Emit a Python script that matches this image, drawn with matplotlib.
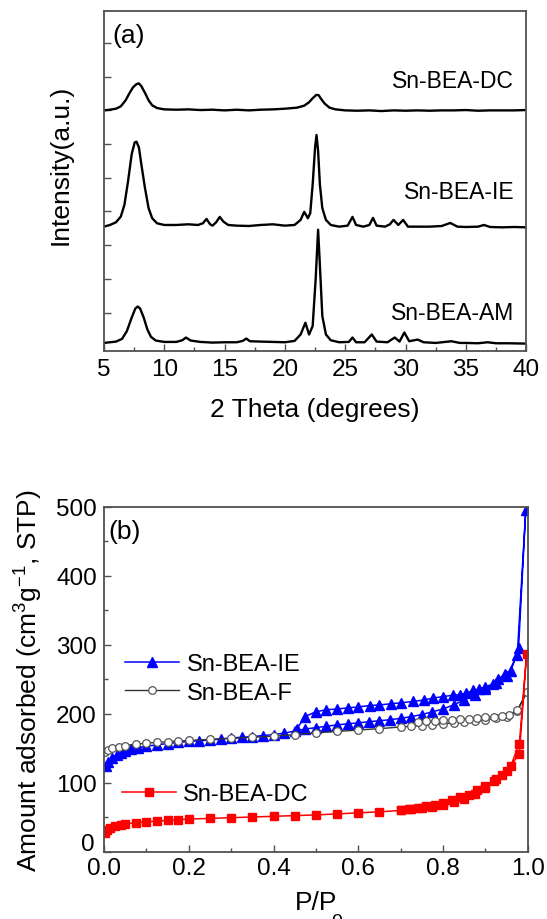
import numpy as np
import matplotlib
matplotlib.use("Agg")
import matplotlib.pyplot as plt
import matplotlib.transforms as mtransforms
from matplotlib.ticker import MultipleLocator, NullFormatter, FormatStrFormatter, FuncFormatter

plt.rcParams['font.family'] = ['Liberation Sans', 'DejaVu Sans']
plt.rcParams['mathtext.fontset'] = 'custom'
plt.rcParams['mathtext.rm'] = 'Liberation Sans'
plt.rcParams['mathtext.it'] = 'Liberation Sans'

# ---- (a) XRD patterns (2theta, stacked intensity) ----
dc_2theta = [5.0, 5.5, 6.0, 6.4, 6.8, 7.1, 7.4, 7.7, 7.9, 8.1, 8.4, 8.7, 9.0, 9.4, 10, 11, 12, 13, 14, 15,
             16, 17, 18, 19, 20, 21, 21.6, 22.0, 22.3, 22.6, 22.8, 23.0, 23.3, 23.7, 24.2, 25, 26, 27, 28,
             29, 30, 31, 32, 33, 34, 35, 36, 37, 38, 39, 40]
dc_int = [7.00, 7.02, 7.05, 7.12, 7.30, 7.50, 7.68, 7.78, 7.80, 7.72, 7.52, 7.30, 7.15, 7.07, 7.03, 7.02, 7.03,
          7.01, 7.02, 7.00, 7.02, 7.00, 7.02, 7.03, 7.05, 7.08, 7.14, 7.24, 7.36, 7.46, 7.45, 7.34, 7.20, 7.08,
          7.03, 7.00, 6.99, 7.00, 6.98, 7.00, 6.99, 7.00, 6.99, 7.00, 7.00, 7.01, 6.99, 7.00, 7.00, 7.00, 7.01]

ie_2theta = [5.0, 5.5, 6.0, 6.4, 6.7, 7.0, 7.3, 7.55, 7.7, 7.9, 8.1, 8.4, 8.7, 9.0, 9.4, 10, 11, 12, 12.8, 13.2,
             13.5, 13.8, 14.0, 14.3, 14.6, 14.9, 15.3, 16, 17, 18, 19, 20, 20.8, 21.3, 21.6, 21.9, 22.1, 22.3,
             22.5, 22.62, 22.75, 22.9, 23.1, 23.4, 23.8, 24.5, 25.2, 25.6, 25.9, 26.5, 27.0, 27.3, 27.6, 28.3,
             28.7, 29.0, 29.4, 29.8, 30.2, 31, 32, 33, 33.7, 34.3, 35, 36, 36.5, 37, 38, 39, 40]
ie_int = [3.55, 3.60, 3.68, 3.85, 4.20, 4.90, 5.70, 6.05, 6.07, 5.90, 5.40, 4.70, 4.10, 3.80, 3.65, 3.60, 3.60,
          3.62, 3.60, 3.65, 3.78, 3.62, 3.58, 3.68, 3.84, 3.70, 3.60, 3.58, 3.57, 3.60, 3.62, 3.58, 3.60, 3.75,
          3.99, 3.80, 3.95, 4.80, 5.90, 6.27, 5.80, 4.80, 4.10, 3.75, 3.60, 3.55, 3.58, 3.84, 3.60, 3.55, 3.60,
          3.81, 3.58, 3.55, 3.62, 3.75, 3.60, 3.75, 3.55, 3.55, 3.55, 3.57, 3.66, 3.55, 3.54, 3.55, 3.60, 3.54,
          3.53, 3.54, 3.53]

am_2theta = [5.0, 5.5, 6.0, 6.5, 6.9, 7.3, 7.6, 7.8, 8.0, 8.3, 8.6, 8.9, 9.3, 10, 11, 11.5, 11.8, 12.2, 13, 14,
             15, 16, 16.5, 16.8, 17.1, 18, 19, 20, 20.8, 21.3, 21.7, 22.0, 22.3, 22.55, 22.75, 22.9, 23.1, 23.4,
             23.8, 24.5, 25.3, 25.6, 25.9, 26.6, 27.2, 27.6, 28.5, 29.1, 29.5, 29.9, 30.3, 31.0, 31.5, 32.5, 33.8,
             34.5, 35, 36, 36.8, 37.5, 38.5, 40]
am_int = [0.10, 0.12, 0.14, 0.22, 0.45, 0.85, 1.12, 1.18, 1.12, 0.85, 0.50, 0.28, 0.17, 0.13, 0.13, 0.18, 0.26,
          0.17, 0.13, 0.11, 0.12, 0.12, 0.16, 0.23, 0.15, 0.14, 0.13, 0.12, 0.16, 0.35, 0.70, 0.35, 0.60, 2.00,
          3.46, 2.40, 0.90, 0.35, 0.18, 0.12, 0.13, 0.26, 0.12, 0.12, 0.35, 0.14, 0.12, 0.26, 0.14, 0.41, 0.15,
          0.20, 0.12, 0.10, 0.15, 0.10, 0.10, 0.09, 0.12, 0.09, 0.09, 0.08]

xrd_names = ['Sn-BEA-DC', 'Sn-BEA-IE', 'Sn-BEA-AM']
xrd_label_y = [7.88, 4.59, 1.0]

# ---- (b) N2 isotherms (P/P0, cm3/g STP): adsorption then desorption ----
ie_p = [0.005, 0.01, 0.02, 0.03, 0.04, 0.05, 0.065, 0.08, 0.1, 0.125, 0.15, 0.175, 0.2, 0.225, 0.25, 0.275,
        0.3, 0.325, 0.35, 0.375, 0.4, 0.425, 0.45, 0.475, 0.5, 0.525, 0.55, 0.575, 0.6, 0.625, 0.65, 0.675,
        0.7, 0.725, 0.75, 0.775, 0.8, 0.825, 0.85, 0.875, 0.9, 0.925, 0.95, 0.975, 0.995,
        0.978, 0.96, 0.946, 0.93, 0.918, 0.9, 0.885, 0.871, 0.855, 0.84, 0.824, 0.8, 0.777, 0.755, 0.73,
        0.7, 0.676, 0.65, 0.627, 0.6, 0.576, 0.55, 0.525, 0.5, 0.474, 0.455]
ie_v = [125, 130, 136, 140, 143, 146, 149, 151, 153, 155, 157, 158.5, 160, 161, 162, 163.5,
        165, 166, 167, 168.5, 170, 172, 175, 178, 180, 182, 184, 185.5, 187, 188.5, 190, 191.5,
        193.5, 196, 199, 203, 207, 213, 220, 228, 236, 245, 255, 285, 495,
        295, 262, 258, 250, 243.5, 239, 236, 234, 230, 228, 227, 225, 223, 220, 218,
        216, 214.5, 213, 212, 210, 208.7, 207, 206, 203, 196, 178]

f_p = [0.003, 0.01, 0.02, 0.035, 0.05, 0.075, 0.1, 0.125, 0.15, 0.175, 0.2, 0.25, 0.3, 0.35, 0.4, 0.45,
       0.5, 0.55, 0.6, 0.65, 0.7, 0.725, 0.75, 0.775, 0.8, 0.825, 0.85, 0.875, 0.9, 0.925, 0.95, 0.975, 0.997,
       0.975, 0.955, 0.94, 0.92, 0.9, 0.88, 0.86, 0.84, 0.82, 0.8, 0.78, 0.76, 0.74]
f_v = [145, 148, 150.5, 152.5, 154, 156, 157.5, 158.5, 159.5, 160.5, 161.5, 163, 164.5, 166, 167.5, 170,
       172.5, 174.5, 176.5, 178.5, 181, 182, 183, 184, 185.5, 187, 188.5, 190, 191.5, 193.5, 196, 204, 231,
       205, 199, 197.5, 196, 195, 194, 193, 192, 191, 190.5, 190, 189.5, 188]

dc_p = [0.003, 0.008, 0.015, 0.025, 0.04, 0.05, 0.075, 0.1, 0.125, 0.15, 0.175, 0.2, 0.25, 0.3, 0.35, 0.4,
        0.45, 0.5, 0.55, 0.6, 0.65, 0.7, 0.725, 0.75, 0.775, 0.8, 0.825, 0.85, 0.875, 0.9, 0.925, 0.95,
        0.98, 0.997,
        0.98, 0.96, 0.94, 0.92, 0.9, 0.88, 0.86, 0.84, 0.82, 0.8, 0.78, 0.76, 0.74, 0.72, 0.7]
dc_v = [28, 32, 35, 37, 39, 40.5, 42, 43.5, 44.5, 45.5, 46.5, 47.5, 48.5, 49.5, 50.5, 51.5,
        52.5, 53.5, 55, 56.5, 58, 60, 61.5, 63, 65, 68, 72, 77, 84, 93, 105, 117,
        142, 287,
        157, 125, 112, 102, 95, 89, 83, 79, 75, 71, 68, 66, 64, 62, 61]

fig = plt.figure(figsize=(5.47, 9.2), dpi=100)
ax1 = fig.add_axes([0.190, 0.617, 0.772, 0.370])
ax2 = fig.add_axes([0.190, 0.073, 0.775, 0.375])

spine_col = '#505050'
for ax in (ax1, ax2):
    for s in ax.spines.values():
        s.set_color(spine_col)
        s.set_linewidth(1.3)
    ax.tick_params(which='both', direction='in', top=False, right=False,
                   labelsize=17.5, color=spine_col, width=1.0)
    ax.tick_params(which='major', length=5)
    ax.tick_params(which='minor', length=3)

# panel (a)
for x, y in zip([dc_2theta, ie_2theta, am_2theta], [dc_int, ie_int, am_int]):
    ax1.plot(x, y, color='black', lw=1.7)
for name, yl in zip(xrd_names, xrd_label_y):
    ax1.text(39.0, yl, name, ha='right', va='center', fontsize=16.5)
ax1.text(0.02, 0.93, '(a)', transform=ax1.transAxes, fontsize=19, va='center')
ax1.set_xlim(5, 40)
ax1.set_ylim(-0.15, 9.95)
ax1.xaxis.set_major_locator(MultipleLocator(5))
ax1.xaxis.set_minor_locator(MultipleLocator(2.5))
ax1.set_yticks(range(1, 10))
ax1.yaxis.set_major_formatter(NullFormatter())
ax1.tick_params(axis='x', pad=5)
ax1.set_xlabel('2 Theta (degrees)', fontsize=19)
ax1.set_ylabel('Intensity(a.u.)', fontsize=19)
ax1.xaxis.set_label_coords(0.5, -0.135)
ax1.yaxis.set_label_coords(-0.075, 0.55)

# panel (b)
l_ie, = ax2.plot(ie_p, ie_v, color='blue', marker='^', ms=6.5, mec='blue', mfc='blue', lw=1.1,
                 label='Sn-BEA-IE')
l_f, = ax2.plot(f_p, f_v, color='#333333', marker='o', ms=5.5, mfc='white', mec='#555555', mew=0.9,
                lw=1.0, label='Sn-BEA-F')
l_dc, = ax2.plot(dc_p, dc_v, color='red', marker='s', ms=6.3, mec='red', mfc='red', lw=1.1,
                 label='Sn-BEA-DC')
ax2.set_xlim(0, 1.0)
ax2.set_ylim(0, 500)
ax2.xaxis.set_major_locator(MultipleLocator(0.2))
ax2.xaxis.set_minor_locator(MultipleLocator(0.1))
ax2.yaxis.set_major_locator(MultipleLocator(100))
ax2.yaxis.set_minor_locator(MultipleLocator(50))
ax2.xaxis.set_major_formatter(FormatStrFormatter('%.1f'))
# the "0" on the y axis sits a little higher in the source, drawn separately below
ax2.yaxis.set_major_formatter(FuncFormatter(lambda v, pos: '' if v == 0 else '%d' % v))
ax2.tick_params(axis='x', pad=4)
ax2.tick_params(axis='y', pad=5)
ytrans = mtransforms.offset_copy(ax2.get_yaxis_transform(), fig=fig, x=-7, y=-2, units='points')
ax2.text(0, 0, '0', transform=ytrans, ha='right', va='bottom', fontsize=17.5)
ax2.text(0.01, 0.93, '(b)', transform=ax2.transAxes, fontsize=19, va='center')
ax2.set_xlabel('P/P', fontsize=19)
ax2.set_ylabel('Amount adsorbed (cm$^3$g$^{-1}$, STP)', fontsize=19)
ax2.xaxis.set_label_coords(0.5, -0.11)
ax2.yaxis.set_label_coords(-0.14, 0.5)
# subscript 0 of P/P0 sits low and is clipped by the figure edge, as in the source
fig.text(337 / 547, 1 - 914 / 920, '0', fontsize=14, ha='center', va='top')

leg1 = ax2.legend(handles=[l_ie, l_f], loc='center left', bbox_to_anchor=(0.05, 0.503),
                  frameon=False, fontsize=17, numpoints=1, handlelength=2.3, handletextpad=0.3,
                  borderpad=0, borderaxespad=0, labelspacing=0.28)
ax2.add_artist(leg1)
ax2.legend(handles=[l_dc], loc='center left', bbox_to_anchor=(0.042, 0.168),
           frameon=False, fontsize=17, numpoints=1, handlelength=2.3, handletextpad=0.3,
           borderpad=0, borderaxespad=0)

fig.savefig('out.png', dpi=100)
